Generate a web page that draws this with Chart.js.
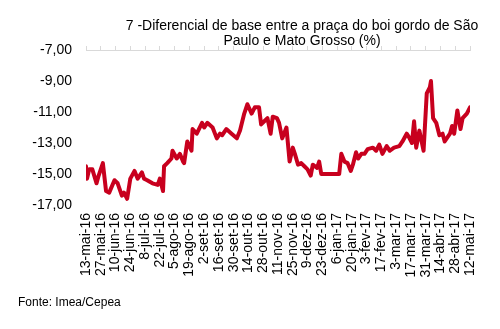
<!DOCTYPE html>
<html>
<head>
<meta charset="utf-8">
<script src="https://cdn.jsdelivr.net/npm/chart.js@4/dist/chart.umd.min.js"></script>
<style>
  html, body { margin: 0; padding: 0; background: #fff; }
  #wrap { width: 500px; height: 329px; }
</style>
</head>
<body>
<div id="wrap"><canvas id="myChart" width="500" height="329"></canvas></div>
<script>
// tick labels, one every 14 days starting 13-mai-16
var tickLabels = ["13-mai-16", "27-mai-16", "10-jun-16", "24-jun-16", "8-jul-16", "22-jul-16",
  "5-ago-16", "19-ago-16", "2-set-16", "16-set-16", "30-set-16", "14-out-16", "28-out-16",
  "11-nov-16", "25-nov-16", "9-dez-16", "23-dez-16", "6-jan-17", "20-jan-17", "3-fev-17",
  "17-fev-17", "3-mar-17", "17-mar-17", "31-mar-17", "14-abr-17", "28-abr-17", "12-mai-17"];

// days since 13-mai-16
var days = [0, 1, 3, 6, 10, 12, 16, 19, 22, 27, 30, 34, 36, 39, 42, 46, 49, 53, 55, 58,
  63, 68, 70, 73, 74, 77, 81, 82, 86, 89, 92, 93, 96, 100, 101, 105, 110, 112, 115, 120,
  124, 127, 129, 133, 138, 143, 146, 150, 153, 157, 160, 164, 166, 169, 172, 175, 177, 181, 183, 186,
  190, 193, 196, 198, 201, 204, 207, 210, 213, 215, 219, 221, 223, 240, 242, 245, 248, 251, 253, 256,
  258, 261, 264, 267, 272, 275, 278, 281, 285, 288, 292, 297, 300, 304, 306, 309, 311, 313, 316, 320,
  323, 326, 327, 329, 332, 335, 338, 340, 345, 347, 349, 352, 355, 357, 361, 364];

// diferencial (%)
var diferencial = [-14.5, -15.3, -14.7, -14.7, -15.6, -15.1, -14.3, -16.1, -16.2, -15.4, -15.6, -16.4, -16.2, -16.6, -15.3, -14.8, -15.3, -14.9, -15.3, -15.4,
  -15.6, -15.7, -15.3, -16.1, -14.5, -14.3, -14.0, -13.5, -14.0, -13.7, -14.2, -14.3, -12.9, -13.5, -12.1, -12.4, -11.7, -12.0, -11.7, -12.0,
  -12.7, -12.4, -12.5, -12.1, -12.4, -12.7, -12.2, -11.1, -10.5, -11.1, -10.7, -10.7, -11.8, -11.6, -11.4, -12.4, -11.3, -11.4, -11.7, -12.7,
  -12.0, -14.2, -13.3, -13.7, -14.4, -14.3, -14.5, -14.7, -15.1, -14.4, -14.6, -14.2, -15.0, -15.0, -13.7, -14.2, -14.3, -14.8, -14.4, -13.6,
  -14.0, -13.7, -13.7, -13.4, -13.3, -13.5, -13.1, -13.7, -13.2, -13.5, -13.3, -13.2, -12.9, -12.4, -12.6, -13.0, -11.6, -13.3, -12.2, -13.5,
  -9.8, -9.4, -9.0, -11.4, -11.7, -12.5, -12.4, -12.9, -12.4, -11.9, -12.4, -10.9, -12.1, -11.4, -11.1, -10.7];

var fontFam = "'Liberation Sans', Arial, sans-serif";

var points = days.map(function (d, i) { return { x: d, y: diferencial[i] }; });

var textPlugin = {
  id: 'texts',
  afterDraw: function (chart) {
    var ctx = chart.ctx;
    ctx.save();
    ctx.fillStyle = '#000';
    ctx.textAlign = 'center';
    ctx.textBaseline = 'alphabetic';
    ctx.font = '14px ' + fontFam;
    ctx.fillText('7 -Diferencial de base entre a praça do boi gordo de São', 302, 30);
    ctx.fillText('Paulo e Mato Grosso (%)', 302, 45);
    ctx.textAlign = 'left';
    ctx.font = '12px ' + fontFam;
    ctx.fillText('Fonte: Imea/Cepea', 18, 306);
    ctx.restore();
  }
};

var myChart = new Chart(document.getElementById("myChart"), {
  type: 'line',
  data: {
    datasets: [{
      label: "Diferencial",
      data: points,
      borderColor: "#c8001e",
      borderWidth: 4,
      pointRadius: 0,
      tension: 0,
      borderJoinStyle: 'round',
      borderCapStyle: 'round',
      fill: false
    }]
  },
  options: {
    responsive: false,
    animation: false,
    layout: { padding: { left: 0, right: 30, top: 0, bottom: 0 } },
    plugins: {
      legend: { display: false },
      title: { display: false },
      tooltip: { enabled: false }
    },
    scales: {
      x: {
        type: 'linear',
        position: 'bottom',
        min: 0,
        max: 364,
        border: { display: false },
        grid: { display: false, drawTicks: false },
        ticks: {
          stepSize: 14,
          autoSkip: false,
          minRotation: 90,
          maxRotation: 90,
          padding: 8,
          color: '#000',
          font: { family: fontFam, size: 14 },
          callback: function (v) { return tickLabels[Math.round(v / 14)]; }
        },
        afterFit: function (s) { s.height = 124; }
      },
      xTop: {
        type: 'linear',
        position: 'top',
        min: 0,
        max: 364,
        border: { display: true, color: '#d9d9d9', width: 1 },
        grid: { drawOnChartArea: false, drawTicks: true, tickLength: 4, color: '#d9d9d9' },
        ticks: { stepSize: 14, display: false },
        afterFit: function (s) { s.height = 50; }
      },
      y: {
        min: -17,
        max: -7,
        border: { display: false },
        grid: { display: false, drawTicks: false },
        ticks: {
          stepSize: 2,
          padding: 14,
          color: '#000',
          font: { family: fontFam, size: 14 },
          callback: function (v) { return v.toFixed(2).replace('.', ','); }
        },
        afterFit: function (s) { s.width = 86; }
      }
    }
  },
  plugins: [textPlugin]
});
</script>
</body>
</html>
